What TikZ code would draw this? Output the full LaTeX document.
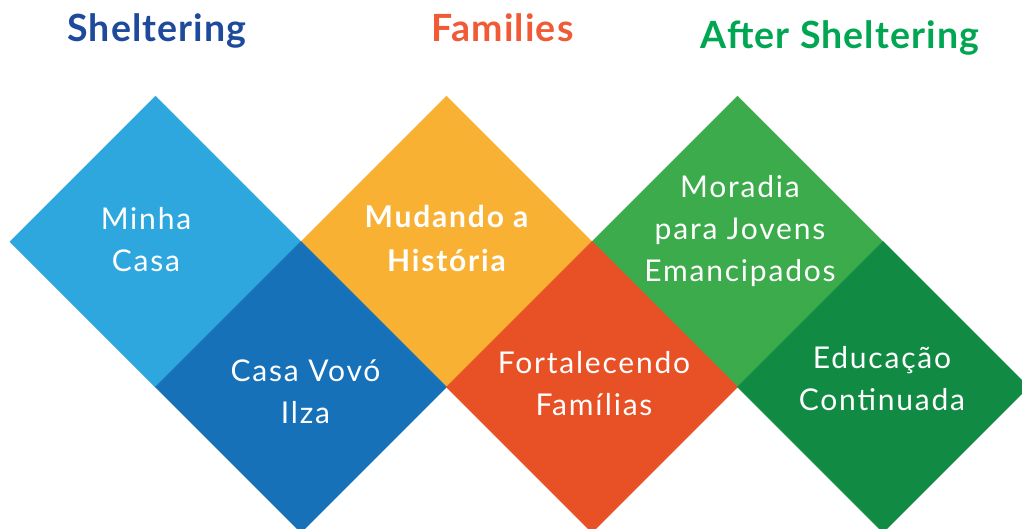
\documentclass[tikz,border=0pt]{standalone}
\usepackage{fontspec}
\setmainfont{Lato}
\newfontfamily\lblfont[LetterSpace=6]{Lato}
\newfontfamily\ttlfont[LetterSpace=3]{Lato}
\usetikzlibrary{shapes.geometric}
\definecolor{cLightBlue}{HTML}{2EA7DF}
\definecolor{cDarkBlue}{HTML}{1771B9}
\definecolor{cYellow}{HTML}{F8B133}
\definecolor{cOrange}{HTML}{E85126}
\definecolor{cGreen}{HTML}{3CAB4B}
\definecolor{cDarkGreen}{HTML}{118B43}
\definecolor{tBlue}{HTML}{1E4A9C}
\definecolor{tOrange}{HTML}{F15A37}
\definecolor{tGreen}{HTML}{00A651}
\begin{document}
\begin{tikzpicture}[x=1pt,y=-1pt,
  tile/.style={diamond, aspect=1, minimum width=291pt, minimum height=291pt,
    inner sep=0pt, outer sep=0pt, fill=#1, draw=#1, line width=0.5pt},
  lbl/.style={text=white, align=center, anchor=base, inner sep=0pt,
    font=\lblfont\fontsize{30}{42}\selectfont},
  ttl/.style={anchor=base, inner sep=0pt, font=\ttlfont\fontsize{37.5}{40}\selectfont\bfseries}]
\useasboundingbox (0,0) rectangle (1022,528);
% tiles
\node[tile=cLightBlue] (d1) at (155.5,241.7) {};
\node[tile=cYellow]    (d3) at (446.5,241.7) {};
\node[tile=cGreen]     (d5) at (737.5,241.7) {};
\node[tile=cDarkBlue]  (d2) at (301,387) {};
\node[tile=cOrange]    (d4) at (592,387) {};
\node[tile=cDarkGreen] (d6) at (883,387) {};
% titles
\node[ttl, text=tBlue]   (t1) at (157,41.7) {Sheltering};
\node[ttl, text=tOrange] (t2) at (502.5,41.7) {Families};
\node[ttl, text=tGreen]  (t3) at (840,48.3) {After Sheltering};
% labels (anchor = baseline of last line)
\node[lbl] (l1) at (146,271) {Minha\\Casa};
\node[lbl] (l2) at (305.5,423) {Casa Vovó\\Ilza};
\node[lbl, font=\lblfont\fontsize{30}{44}\selectfont\bfseries] (l3) at (446.5,271.5) {Mudando a\\História};
\node[lbl] (l4) at (594,415) {Fortalecendo\\Famílias};
\node[lbl] (l5) at (740,281.7) {Moradia\\para Jovens\\Emancipados};
\node[lbl] (l6) at (882,410) {Educação\\Continuada};
\end{tikzpicture}
\end{document}
